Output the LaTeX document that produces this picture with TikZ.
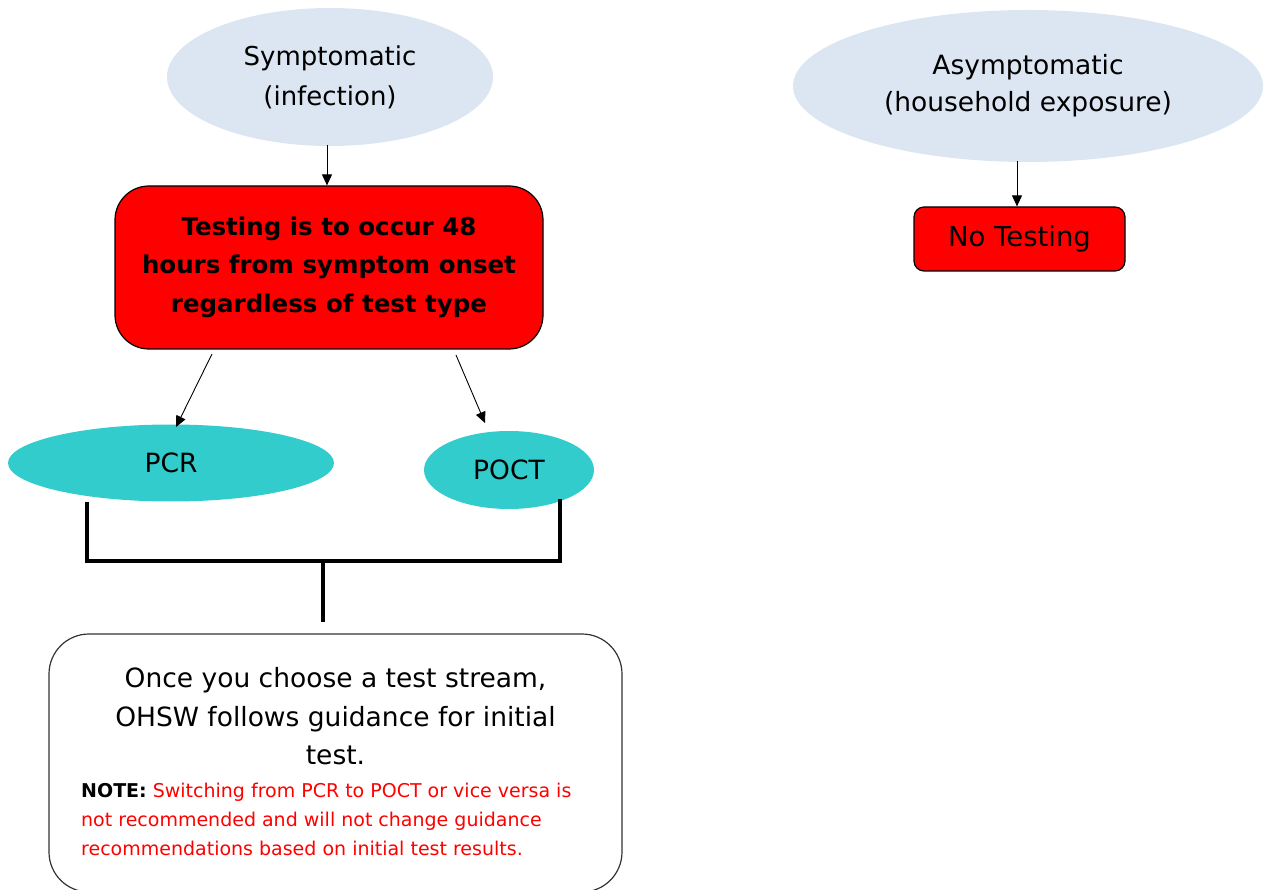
\documentclass[tikz,border=0pt]{standalone}
\usepackage{fontspec}
\setmainfont{DejaVu Sans}
\usetikzlibrary{shapes.geometric,arrows.meta}
\definecolor{paleblue}{HTML}{DCE6F2}
\definecolor{teal}{HTML}{33CCCC}
\definecolor{brightred}{HTML}{FF0000}
\begin{document}
\begin{tikzpicture}[x=1pt,y=-1pt,
  cloud/.style={ellipse,fill=paleblue,draw=none,inner sep=0pt,align=center},
  testell/.style={ellipse,fill=teal,draw=none,inner sep=0pt,font=\fontsize{26.5}{30}\selectfont},
  redbox/.style={rectangle,fill=brightred,draw=black,line width=1.2pt,align=center},
  arr/.style={-{Triangle[length=11pt,width=10pt]},line width=0.9pt},
  bracket/.style={line width=4.5pt}]
\useasboundingbox (0,0) rectangle (1264,890);
% top nodes
\node[cloud,minimum width=326pt,minimum height=138pt,font=\fontsize{26}{40}\selectfont] (sym) at (330,77) {Symptomatic\\(infection)};
\node[cloud,minimum width=470pt,minimum height=152pt,font=\fontsize{26.5}{37}\selectfont] (asym) at (1028,86) {Asymptomatic\\(household exposure)};
\node[redbox,rounded corners=34pt,minimum width=428pt,minimum height=163pt,font=\bfseries\fontsize{24.5}{38.5}\selectfont] (test) at (329,267.5) {Testing is to occur 48\\hours from symptom onset\\regardless of test type\rule[-6pt]{0pt}{1pt}};
\node[redbox,rounded corners=10pt,minimum width=211pt,minimum height=64pt,font=\fontsize{27.5}{30}\selectfont] (notest) at (1019.5,239) {No Testing};
% test ellipses
\node[testell,minimum width=326pt,minimum height=77pt] (pcr) at (171,463) {PCR};
\node[testell,minimum width=170pt,minimum height=78pt] (poct) at (509,470) {POCT};
% bottom box
\node[rectangle,draw=black!80,line width=1.2pt,fill=white,rounded corners=40pt,minimum width=573pt,minimum height=258pt] (guide) at (335.5,763) {};
\node[align=center,font=\fontsize{26.5}{38.5}\selectfont,anchor=north] (guidetext) at (335.5,664) {Once you choose a test stream,\\OHSW follows guidance for initial\\test.};
\node[align=left,font=\fontsize{19}{29}\selectfont,anchor=north west,inner sep=0pt] (note) at (81,782.5) {{\bfseries NOTE:} \textcolor{brightred}{Switching from PCR to POCT or vice versa is}\\\textcolor{brightred}{not recommended and will not change guidance}\\\textcolor{brightred}{recommendations based on initial test results.}};
% arrows
\coordinate (a1s) at (327,145);
\draw[arr] (a1s) -- (test.north -| a1s);
\coordinate (a2s) at (212,354);
\coordinate (a2e) at (176,427);
\draw[arr] (a2s) -- (a2e);
\coordinate (a3s) at (456,355);
\coordinate (a3e) at (485,423);
\draw[arr] (a3s) -- (a3e);
\coordinate (a4s) at (1017,161);
\draw[arr] (a4s) -- (notest.north -| a4s);
% bracket
\coordinate (bl) at (87,502);
\coordinate (br) at (560,499);
\coordinate (bm) at (323,561);
\draw[bracket] (bl) |- (bm) -| (br);
\coordinate (stemend) at (323,622);
\draw[bracket] (bm) -- (stemend);
\end{tikzpicture}
\end{document}
